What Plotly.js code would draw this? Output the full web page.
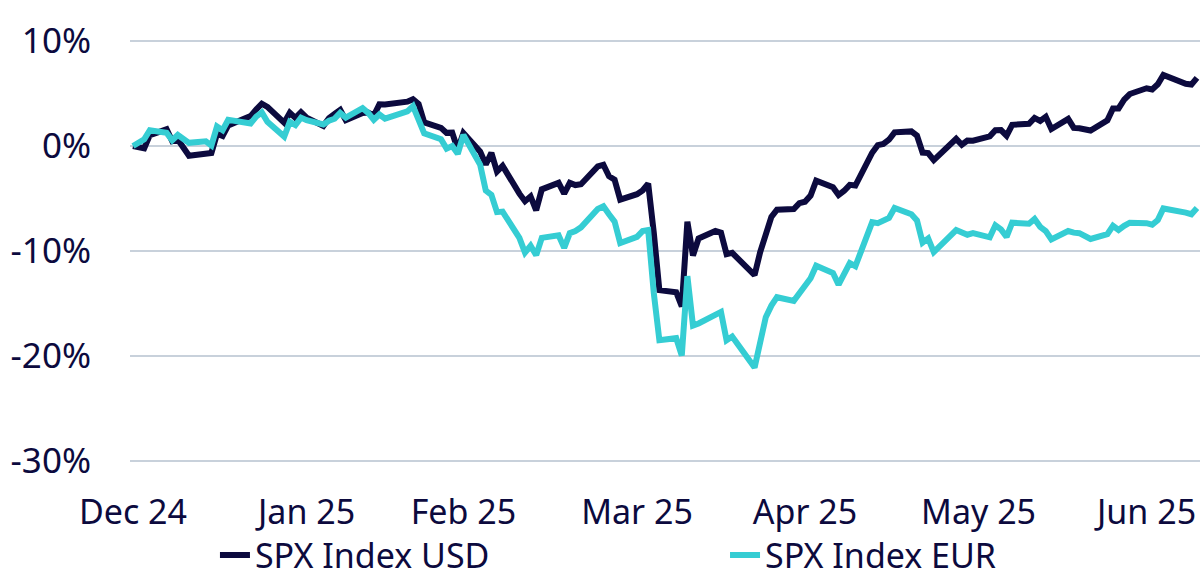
<!DOCTYPE html>
<html>
<head>
<meta charset="utf-8">
<script src="https://cdn.plot.ly/plotly-3.0.1.min.js"></script>
<style>
    html, body { margin: 0; padding: 0; background: #ffffff; }
    #grafico { width: 1200px; height: 583px; }
</style>
</head>
<body>
<div id="grafico"></div>
<script>
/* ============================================================================
 * Data (cumulative return since 31 Dec 2024, in %)
 * ========================================================================== */

const tradingDays = [
    "2024-12-31",
    "2025-01-02", "2025-01-03", "2025-01-06", "2025-01-07", "2025-01-08",
    "2025-01-10", "2025-01-13", "2025-01-14", "2025-01-15", "2025-01-16",
    "2025-01-17", "2025-01-21", "2025-01-22", "2025-01-23", "2025-01-24",
    "2025-01-27", "2025-01-28", "2025-01-29", "2025-01-30", "2025-01-31",
    "2025-02-03", "2025-02-04", "2025-02-05", "2025-02-06", "2025-02-07",
    "2025-02-10", "2025-02-11", "2025-02-12", "2025-02-13", "2025-02-14",
    "2025-02-18", "2025-02-19", "2025-02-20", "2025-02-21", "2025-02-24",
    "2025-02-25", "2025-02-26", "2025-02-27", "2025-02-28",
    "2025-03-03", "2025-03-04", "2025-03-05", "2025-03-06", "2025-03-07",
    "2025-03-10", "2025-03-11", "2025-03-12", "2025-03-13", "2025-03-14",
    "2025-03-17", "2025-03-18", "2025-03-19", "2025-03-20", "2025-03-21",
    "2025-03-24", "2025-03-25", "2025-03-26", "2025-03-27", "2025-03-28",
    "2025-03-31",
    "2025-04-01", "2025-04-02", "2025-04-03", "2025-04-04", "2025-04-07",
    "2025-04-08", "2025-04-09", "2025-04-10", "2025-04-11", "2025-04-14",
    "2025-04-15", "2025-04-16", "2025-04-17", "2025-04-21", "2025-04-22",
    "2025-04-23", "2025-04-24", "2025-04-25", "2025-04-28", "2025-04-29",
    "2025-04-30",
    "2025-05-01", "2025-05-02", "2025-05-05", "2025-05-06", "2025-05-07",
    "2025-05-08", "2025-05-09", "2025-05-12", "2025-05-13", "2025-05-14",
    "2025-05-15", "2025-05-16", "2025-05-19", "2025-05-20", "2025-05-21",
    "2025-05-22", "2025-05-23", "2025-05-27", "2025-05-28", "2025-05-29",
    "2025-05-30",
    "2025-06-02", "2025-06-03", "2025-06-04", "2025-06-05", "2025-06-06",
    "2025-06-09", "2025-06-10", "2025-06-11", "2025-06-12", "2025-06-13",
    "2025-06-16", "2025-06-17", "2025-06-18", "2025-06-20", "2025-06-23",
    "2025-06-24", "2025-06-25", "2025-06-26", "2025-06-27", "2025-06-30",
    "2025-07-01", "2025-07-02", "2025-07-03", "2025-07-07", "2025-07-08",
    "2025-07-09"
];

const usdReturns = [
    0,
    -0.22, 1.03, 1.59, 0.47, 0.62, -0.93, -0.77, -0.66, 1.16, 0.95,
    1.96, 2.85, 3.48, 4.03, 3.73, 2.22, 3.16, 2.68, 3.22, 2.70,
    1.92, 2.66, 3.06, 3.43, 2.45, 3.14, 3.18, 2.90, 3.97, 3.96,
    4.22, 4.46, 4.01, 2.24, 1.73, 1.25, 1.27, -0.34, 1.24,
    -0.54, -1.76, -0.66, -2.43, -1.89, -4.54, -5.26, -4.80, -6.12, -4.13,
    -3.51, -4.54, -3.51, -3.72, -3.64, -1.94, -1.79, -2.88, -3.20, -5.11,
    -4.59,
    -4.23, -3.58, -8.25, -13.73, -13.93, -15.28, -7.22, -10.43, -8.81, -8.09,
    -8.25, -10.30, -10.18, -12.30, -10.10, -8.60, -6.75, -6.06, -6.00, -5.45,
    -5.31,
    -4.72, -3.31, -3.93, -4.67, -4.26, -3.70, -3.77, -0.64, 0.08, 0.19,
    0.60, 1.30, 1.39, 1.00, -0.63, -0.67, -1.34, 0.68, 0.12, 0.52,
    0.51,
    0.92, 1.51, 1.52, 0.98, 2.02, 2.11, 2.67, 2.39, 2.78, 1.62,
    2.58, 1.72, 1.69, 1.47, 2.44, 3.58, 3.58, 4.41, 4.95, 5.50,
    5.38, 5.88, 6.76, 5.92, 5.85, 6.49
];

const eurReturns = [
    0,
    0.63, 1.50, 1.25, 0.55, 1.05, 0.30, 0.45, 0.05, 1.85, 1.50,
    2.50, 2.15, 2.80, 3.20, 2.30, 0.90, 2.30, 2.00, 2.70, 2.45,
    2.05, 2.40, 2.60, 3.15, 2.70, 3.60, 3.15, 2.50, 3.00, 2.60,
    3.30, 3.80, 2.55, 1.20, 0.65, -0.25, 0.00, -0.75, 1.05,
    -1.80, -4.25, -4.65, -6.30, -6.25, -8.75, -10.15, -9.50, -10.40, -8.75,
    -8.50, -9.70, -8.30, -8.10, -7.75, -6.00, -5.75, -6.50, -7.20, -9.25,
    -8.65,
    -8.10, -8.00, -14.00, -18.50, -18.30, -19.95, -12.40, -17.10, -16.90, -16.15,
    -15.80, -18.50, -18.15, -21.10, -18.50, -16.30, -15.20, -14.40, -14.75, -14.00,
    -13.45,
    -12.60, -11.40, -12.10, -13.20, -12.30, -11.15, -11.45, -7.25, -7.35, -7.15,
    -6.85, -5.90, -6.50, -7.10, -9.20, -8.80, -10.10, -8.00, -8.20, -8.45,
    -8.30,
    -8.70, -7.55, -7.95, -8.65, -7.30, -7.40, -6.95, -7.70, -8.10, -8.90,
    -8.10, -8.25, -8.30, -8.85, -8.40, -7.60, -8.00, -7.60, -7.30, -7.35,
    -7.50, -7.05, -5.95, -6.35, -6.50, -5.90
];

const seriesNames = ["SPX Index USD", "SPX Index EUR"];

// Month-end ticks
const tickDates = [
    "2024-12-31", "2025-01-31", "2025-02-28", "2025-03-31",
    "2025-04-30", "2025-05-31", "2025-06-30"
];
const tickLabels = ["Dec 24", "Jan 25", "Feb 25", "Mar 25", "Apr 25", "May 25", "Jun 25"];

const yTicks = [-30, -20, -10, 0, 10];


/* ============================================================================
 * Styles
 * ========================================================================== */

const COLOR_USD = "#0c0a3e";
const COLOR_EUR = "#35cdd3";
const COLOR_TEXT = "#0c0a3e";
const COLOR_GRID = "#c8d1db";
const FONT = "'Noto Sans', 'Open Sans', sans-serif";


/* ============================================================================
 * Helpers
 * ========================================================================== */

/**
 * One-row legend placed under the plot, one per series.
 */
function legendAt(xPos) {
    return {
        orientation: "h",
        x: xPos,
        xanchor: "left",
        y: -0.192,
        yanchor: "middle",
        font: { family: FONT, size: 34, color: COLOR_TEXT },
        bgcolor: "rgba(0,0,0,0)"
    };
}


/* ============================================================================
 * Chart
 * ========================================================================== */

function crearGrafico() {

    const traceUsd = {
        type: "scatter",
        mode: "lines",
        name: seriesNames[0],
        x: tradingDays,
        y: usdReturns,
        line: { color: COLOR_USD, width: 6 },
        legend: "legend",
        hoverinfo: "skip"
    };

    const traceEur = {
        type: "scatter",
        mode: "lines",
        name: seriesNames[1],
        x: tradingDays,
        y: eurReturns,
        line: { color: COLOR_EUR, width: 6 },
        legend: "legend2",
        hoverinfo: "skip"
    };

    const layout = {
        width: 1200,
        height: 583,
        margin: { l: 130, r: 0, t: 31, b: 112, autoexpand: false },
        paper_bgcolor: "#ffffff",
        plot_bgcolor: "#ffffff",
        font: { family: FONT, size: 34, color: COLOR_TEXT },
        showlegend: true,
        legend: legendAt(0.0794),
        legend2: legendAt(0.5561),
        xaxis: {
            type: "date",
            range: ["2024-12-30 11:08", "2025-07-09 13:00"],
            tickmode: "array",
            tickvals: tickDates,
            ticktext: tickLabels,
            showgrid: false,
            zeroline: false,
            showline: false,
            ticks: "",
            ticklabelstandoff: 18,
            tickfont: { family: FONT, size: 34, color: COLOR_TEXT },
            automargin: false,
            fixedrange: true
        },
        yaxis: {
            range: [-30.952, 10.952],
            tickmode: "array",
            tickvals: yTicks,
            ticktext: yTicks.map(v => v + "%"),
            showgrid: true,
            gridcolor: COLOR_GRID,
            gridwidth: 2,
            zeroline: false,
            showline: false,
            ticks: "",
            ticklabelstandoff: 38,
            tickfont: { family: FONT, size: 35, color: COLOR_TEXT },
            automargin: false,
            fixedrange: true
        }
    };

    Plotly.newPlot(
        "grafico",
        [traceUsd, traceEur],
        layout,
        { displayModeBar: false, staticPlot: true }
    );
}


/* ============================================================================
 * Init
 * ========================================================================== */

document.addEventListener("DOMContentLoaded", () => {

    crearGrafico();

});
</script>
</body>
</html>
